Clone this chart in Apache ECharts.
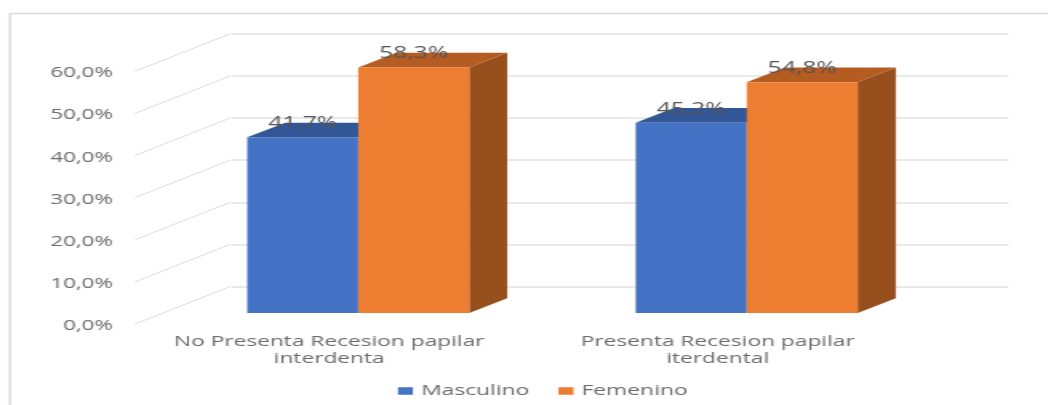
<!DOCTYPE html>
<html>
<head>
<meta charset="utf-8">
<style>
  html, body { margin: 0; padding: 0; background: #fff; overflow: hidden; }
  /* The plot is laid out narrow and widened, which gives the lettering its broad look. */
  #chart { width: 655px; height: 405px; transform-origin: 0 0; transform: scaleX(1.6); }
</style>
<script src="https://cdn.jsdelivr.net/npm/echarts@6/dist/echarts.min.js"></script>
</head>
<body>
<div id="chart"></div>
<script>
const categories = ['No Presenta Recesion papilar\ninterdenta', 'Presenta Recesion papilar\niterdental'];
const masculino = [41.7, 45.2];
const femenino = [58.3, 54.8];
const axisTicks = [0, 10, 20, 30, 40, 50, 60];

const STRETCH = 1.6;
const px = (x) => x / STRETCH;
const FONT = '"Open Sans"';

const fmt = (v) => v.toFixed(1).replace('.', ',') + '%';

// Depth of the box and how far it sits behind the front edge of the floor
const BOX_DX = px(38), BOX_DY = -14.7;
const FLOOR_DX = px(29), FLOOR_DY = -11;
const WALL_DX = px(95), WALL_DY = -37.4;

function boxRenderer(side, front, topColor, sideColor) {
  return function (params, api) {
    const idx = api.value(0), val = api.value(1);
    const band = api.size([1, 0])[0];
    const w = band / 3.5;
    const base = api.coord([idx, 0]);
    const top = api.coord([idx, val]);
    const x0 = base[0] + FLOOR_DX + (side < 0 ? -w : 0);
    const x1 = x0 + w;
    const y0 = base[1] + FLOOR_DY;
    const y1 = top[1] + FLOOR_DY;
    return {
      type: 'group',
      children: [
        { type: 'polygon', shape: { points: [[x1, y0], [x1 + BOX_DX, y0 + BOX_DY], [x1 + BOX_DX, y1 + BOX_DY], [x1, y1]] }, style: { fill: sideColor } },
        { type: 'polygon', shape: { points: [[x0, y1], [x1, y1], [x1 + BOX_DX, y1 + BOX_DY], [x0 + BOX_DX, y1 + BOX_DY]] }, style: { fill: topColor } },
        { type: 'rect', shape: { x: x0, y: y1, width: w, height: y0 - y1 }, style: { fill: front } },
        { type: 'text', x: (x0 + x1) / 2, y: y1 - 13.5, style: { text: fmt(val), fill: '#555', font: '15.4px ' + FONT, textAlign: 'center', textVerticalAlign: 'middle' } }
      ]
    };
  };
}

const option = {
  animation: false,
  backgroundColor: '#fff',
  grid: [
    // Front edge of the floor: carries the category labels and the boxes
    { left: px(135), width: px(777), top: 71.3, height: 252.7 },
    // Back wall: carries the horizontal rules
    { left: px(231.5), width: px(777), top: 33.7, height: 253 },
    // Tick labels, set slightly below the front edge
    { left: px(135), width: px(777), top: 73.3, height: 252.7 }
  ],
  xAxis: [
    {
      type: 'category', gridIndex: 0, data: categories,
      axisLine: { show: false }, axisTick: { show: false },
      axisLabel: { color: '#6a6a6a', fontFamily: FONT, fontSize: 14.2, lineHeight: 16.7, margin: 10, interval: 0 }
    },
    { type: 'category', gridIndex: 1, data: categories, show: false },
    { type: 'category', gridIndex: 2, data: categories, show: false }
  ],
  yAxis: [
    {
      type: 'value', gridIndex: 0, min: 0, max: 60, interval: 10,
      axisLine: { show: false }, axisTick: { show: false }, splitLine: { show: false }, axisLabel: { show: false }
    },
    {
      type: 'value', gridIndex: 1, min: 0, max: 60, interval: 10,
      axisLine: { show: false }, axisTick: { show: false }, axisLabel: { show: false },
      splitLine: { lineStyle: { color: '#e2e2e2', width: 1.5 } }
    },
    {
      type: 'value', gridIndex: 2, min: 0, max: 60, interval: 10,
      axisLine: { show: false }, axisTick: { show: false }, splitLine: { show: false },
      axisLabel: { color: '#6a6a6a', fontFamily: FONT, fontSize: 14, margin: px(22), formatter: fmt }
    }
  ],
  legend: {
    data: ['Masculino', 'Femenino'],
    icon: 'rect', itemWidth: px(15), itemHeight: 7.5, itemGap: px(29), padding: 0,
    left: px(398), top: 384,
    textStyle: { color: '#6a6a6a', fontFamily: FONT, fontSize: 14.3 }
  },
  graphic: [
    { type: 'line', shape: { x1: px(10), y1: 13.5, x2: 655, y2: 13.5 }, style: { stroke: '#dcdcdc', lineWidth: 1.6 } },
    { type: 'line', shape: { x1: px(10), y1: 13.5, x2: px(10), y2: 405 }, style: { stroke: '#dcdcdc', lineWidth: 1.6 } }
  ],
  series: [
    {
      type: 'custom', name: 'Suelo', xAxisIndex: 0, yAxisIndex: 0, silent: true, clip: false,
      data: axisTicks.map((v) => [0, v]),
      encode: { x: 0, y: 1 },
      renderItem(params, api) {
        const y = api.coord([0, api.value(1)])[1];
        const x = params.coordSys.x;
        return {
          type: 'line',
          shape: { x1: x, y1: y, x2: x + WALL_DX, y2: y + WALL_DY },
          style: { stroke: '#dddddd', lineWidth: 1 }
        };
      }
    },
    {
      type: 'custom', name: 'Masculino', xAxisIndex: 0, yAxisIndex: 0, clip: false,
      itemStyle: { color: '#4472C4' },
      data: masculino.map((v, i) => [i, v]),
      encode: { x: 0, y: 1 },
      renderItem: boxRenderer(-1, '#4472C4', '#335796', '#2F5597')
    },
    {
      type: 'custom', name: 'Femenino', xAxisIndex: 0, yAxisIndex: 0, clip: false,
      itemStyle: { color: '#ED7D31' },
      data: femenino.map((v, i) => [i, v]),
      encode: { x: 0, y: 1 },
      renderItem: boxRenderer(1, '#ED7D31', '#B45C22', '#974F1D')
    }
  ]
};

echarts.init(document.getElementById('chart')).setOption(option);
</script>
</body>
</html>
